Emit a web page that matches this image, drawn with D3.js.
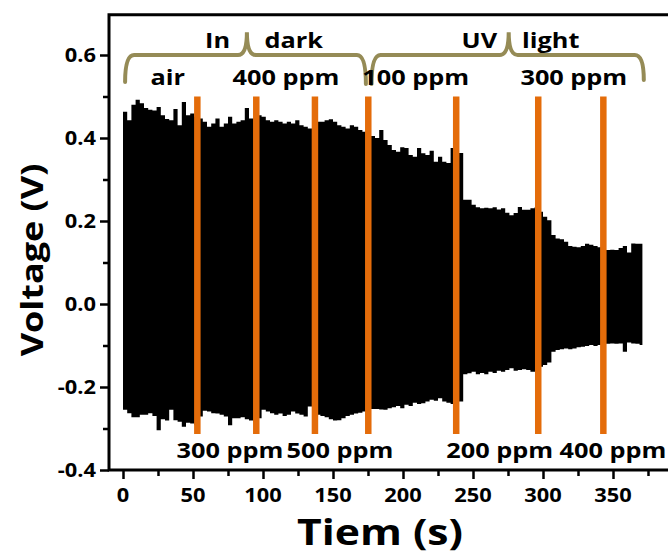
<!DOCTYPE html>
<html>
<head>
<meta charset="utf-8">
<script src="https://cdn.jsdelivr.net/npm/d3@7"></script>
<style>
  html, body { margin: 0; padding: 0; background: #ffffff; }
  svg { display: block; }
  text { font-family: "Open Sans", "Noto Sans", sans-serif; font-weight: bold; fill: #000; }
</style>
</head>
<body>
<svg id="chart" width="668" height="556"></svg>
<script>
// ---------------- data ----------------
const time = [
  0,3,6,9,12,15,18,21,24,27,
  30,33,36,39,42,45,48,51,54,57,
  60,63,66,69,72,75,78,81,84,87,
  90,93,96,99,102,105,108,111,114,117,
  120,123,126,129,132,135,138,141,144,147,
  150,153,156,159,162,165,168,171,174,177,
  180,183,186,189,192,195,198,201,204,207,
  210,213,216,219,222,225,228,231,234,237,
  240,243,246,249,252,255,258,261,264,267,
  270,273,276,279,282,285,288,291,294,297,
  300,303,306,309,312,315,318,321,324,327,
  330,333,336,339,342,345,348,351,354,357,
  360,363,366,369,371
];
// upper envelope of the oscillating voltage (V)
const upper = [
  0.463,0.443,0.480,0.492,0.484,0.472,0.468,0.466,0.475,0.455,
  0.446,0.443,0.470,0.431,0.487,0.455,0.459,0.451,0.447,0.439,
  0.427,0.435,0.447,0.427,0.435,0.451,0.435,0.439,0.443,0.472,
  0.447,0.447,0.455,0.451,0.443,0.439,0.443,0.439,0.435,0.439,
  0.435,0.443,0.431,0.427,0.423,0.435,0.439,0.439,0.443,0.445,
  0.439,0.431,0.427,0.423,0.431,0.427,0.419,0.415,0.411,0.405,
  0.400,0.419,0.395,0.383,0.371,0.367,0.378,0.376,0.359,0.355,
  0.376,0.363,0.359,0.369,0.343,0.355,0.343,0.340,0.376,0.359,
  0.364,0.251,0.251,0.239,0.233,0.231,0.232,0.231,0.233,0.228,
  0.231,0.220,0.214,0.219,0.234,0.227,0.227,0.231,0.233,0.222,
  0.210,0.202,0.166,0.158,0.156,0.150,0.140,0.138,0.137,0.140,
  0.145,0.143,0.140,0.137,0.135,0.130,0.131,0.130,0.135,0.140,
  0.124,0.146,0.145,0.145,0.145
];
// lower envelope (V)
const lower = [
  -0.255,-0.263,-0.273,-0.273,-0.267,-0.267,-0.263,-0.270,-0.304,-0.278,
  -0.281,-0.255,-0.280,-0.284,-0.296,-0.286,-0.288,-0.292,-0.271,-0.257,
  -0.259,-0.263,-0.264,-0.267,-0.271,-0.292,-0.275,-0.275,-0.273,-0.278,
  -0.281,-0.284,-0.275,-0.255,-0.259,-0.263,-0.267,-0.264,-0.270,-0.267,
  -0.259,-0.264,-0.267,-0.271,-0.247,-0.263,-0.267,-0.270,-0.273,-0.278,
  -0.281,-0.280,-0.275,-0.270,-0.267,-0.264,-0.262,-0.259,-0.257,-0.253,
  -0.253,-0.254,-0.255,-0.251,-0.249,-0.246,-0.251,-0.243,-0.246,-0.238,
  -0.241,-0.239,-0.235,-0.231,-0.233,-0.227,-0.235,-0.238,-0.241,-0.239,
  -0.235,-0.169,-0.167,-0.163,-0.169,-0.166,-0.169,-0.163,-0.166,-0.161,
  -0.163,-0.159,-0.155,-0.161,-0.159,-0.157,-0.159,-0.163,-0.163,-0.151,
  -0.147,-0.141,-0.115,-0.111,-0.109,-0.107,-0.109,-0.107,-0.104,-0.103,
  -0.101,-0.099,-0.101,-0.099,-0.099,-0.096,-0.095,-0.096,-0.095,-0.115,
  -0.093,-0.095,-0.096,-0.099,-0.099
];
// times (s) at which the gas was switched (orange markers)
const switchTimes = [53.1, 95.2, 137.1, 175.2, 238.0, 296.6, 343.1];
// concentration labels
const topLabels = ["air", "400 ppm", "100 ppm", "300 ppm"];
const bottomLabels = ["300 ppm", "500 ppm", "200 ppm", "400 ppm"];
const groupLabels = [["In", "dark"], ["UV", "light"]];
// axis ticks
const xTicks = [0, 50, 100, 150, 200, 250, 300, 350];
const xMinor = [25, 75, 125, 175, 225, 275, 325, 375];
const yTicks = [-0.4, -0.2, 0.0, 0.2, 0.4, 0.6];
const yMinor = [-0.3, -0.1, 0.1, 0.3, 0.5];
const xTitle = "Tiem (s)";
const yTitle = "Voltage (V)";

// ---------------- layout ----------------
const W = 668, H = 556;
const svg = d3.select("#chart");
const x = d3.scaleLinear().domain([0, 350]).range([123, 613]);
const y = d3.scaleLinear().domain([-0.4, 0.6]).range([470, 55]);
const xLeft = x(-10), yTop = y(0.697), xRight = W + 10;
const SX = 1.15;   // horizontal text stretch of the reference
const ORANGE = "#E46C0A", OLIVE = "#958B56";

function txt(s, px, py, size, anchor, rot = 0, sx = SX) {
  return svg.append("text")
    .attr("transform", `translate(${px},${py}) rotate(${rot}) scale(${sx},1)`)
    .attr("text-anchor", anchor)
    .attr("font-size", size)
    .text(s);
}

// ---------------- signal ----------------
const rows = time.map((t, i) => ({ t, hi: upper[i], lo: lower[i] }));
const area = d3.area()
  .x(d => x(d.t))
  .y0(d => y(d.lo))
  .y1(d => y(d.hi))
  .curve(d3.curveStepAfter);
svg.append("path").datum(rows).attr("d", area).attr("fill", "#000");

// ---------------- switching markers ----------------
svg.append("g").selectAll("line").data(switchTimes).join("line")
  .attr("x1", d => x(d)).attr("x2", d => x(d))
  .attr("y1", y(0.50)).attr("y2", y(-0.313))
  .attr("stroke", ORANGE).attr("stroke-width", 6.5);

// ---------------- braces ----------------
function brace(t0, tc, t1, vEnd0, vEnd1) {
  const x0 = x(t0), xc = x(tc), x1 = x(t1);
  const yh = y(0.600), yt = y(0.655), r = 9;
  const p = d3.path();
  p.moveTo(x0, y(vEnd0));
  p.quadraticCurveTo(x0, yh, x0 + r, yh);
  p.lineTo(xc - r, yh);
  p.quadraticCurveTo(xc, yh, xc, yt);
  p.quadraticCurveTo(xc, yh, xc + r, yh);
  p.lineTo(x1 - r, yh);
  p.quadraticCurveTo(x1, yh, x1, y(vEnd1));
  svg.append("path").attr("d", p.toString())
    .attr("fill", "none").attr("stroke", OLIVE).attr("stroke-width", 4)
    .attr("stroke-linecap", "round");
}
brace(1.5, 88.5, 173.5, 0.535, 0.530);
brace(177.5, 275.5, 372, 0.530, 0.540);

// group labels
txt(groupLabels[0][0], x(67.5), y(0.617), 22, "middle");
txt(groupLabels[0][1], x(122), y(0.617), 22, "middle");
txt(groupLabels[1][0], x(254.5), y(0.617), 22, "middle");
txt(groupLabels[1][1], x(305.5), y(0.617), 22, "middle");

// concentration labels
const topPos = [32, 116.4, 209, 322];
const botPos = [76.4, 155, 269, 350];
topLabels.forEach((s, i) => txt(s, x(topPos[i]), y(0.527), 22, "middle"));
bottomLabels.forEach((s, i) => txt(s, x(botPos[i]), y(-0.372), 22, "middle"));

// ---------------- axes ----------------
const axG = svg.append("g");
axG.append("path")
  .attr("d", `M${xRight},${yTop} L${xLeft},${yTop} L${xLeft},${y(-0.4)} L${xRight},${y(-0.4)}`)
  .attr("fill", "none").attr("stroke", "#000").attr("stroke-width", 3);

const xAxisMajor = d3.axisBottom(x).tickValues(xTicks).tickSize(9).tickFormat("").tickSizeOuter(0);
const xAxisMinor = d3.axisBottom(x).tickValues(xMinor).tickSize(6).tickFormat("").tickSizeOuter(0);
const yAxisMajor = d3.axisLeft(y).tickValues(yTicks).tickSize(9).tickFormat("").tickSizeOuter(0);
const yAxisMinor = d3.axisLeft(y).tickValues(yMinor).tickSize(6).tickFormat("").tickSizeOuter(0);
[xAxisMajor, xAxisMinor].forEach(a => {
  const g = axG.append("g").attr("transform", `translate(0,${y(-0.4)})`).call(a);
  g.select(".domain").remove();
  g.selectAll("line").attr("stroke-width", 2.5);
});
[yAxisMajor, yAxisMinor].forEach(a => {
  const g = axG.append("g").attr("transform", `translate(${xLeft},0)`).call(a);
  g.select(".domain").remove();
  g.selectAll("line").attr("stroke-width", 2.5);
});

const fx = d3.format("d");
xTicks.forEach(v => txt(fx(v), x(v), 502, 19, "middle"));
const fy = d3.format(".1f");
yTicks.forEach(v => txt(fy(v).replace("\u2212", "-"), xLeft - 13, y(v) + 7, 19, "end"));

// titles
txt(xTitle, 380, 545, 35, "middle", 0, 1.22);
txt(yTitle, 43, 260, 30, "middle", -90, 1.2);
</script>
</body>
</html>
